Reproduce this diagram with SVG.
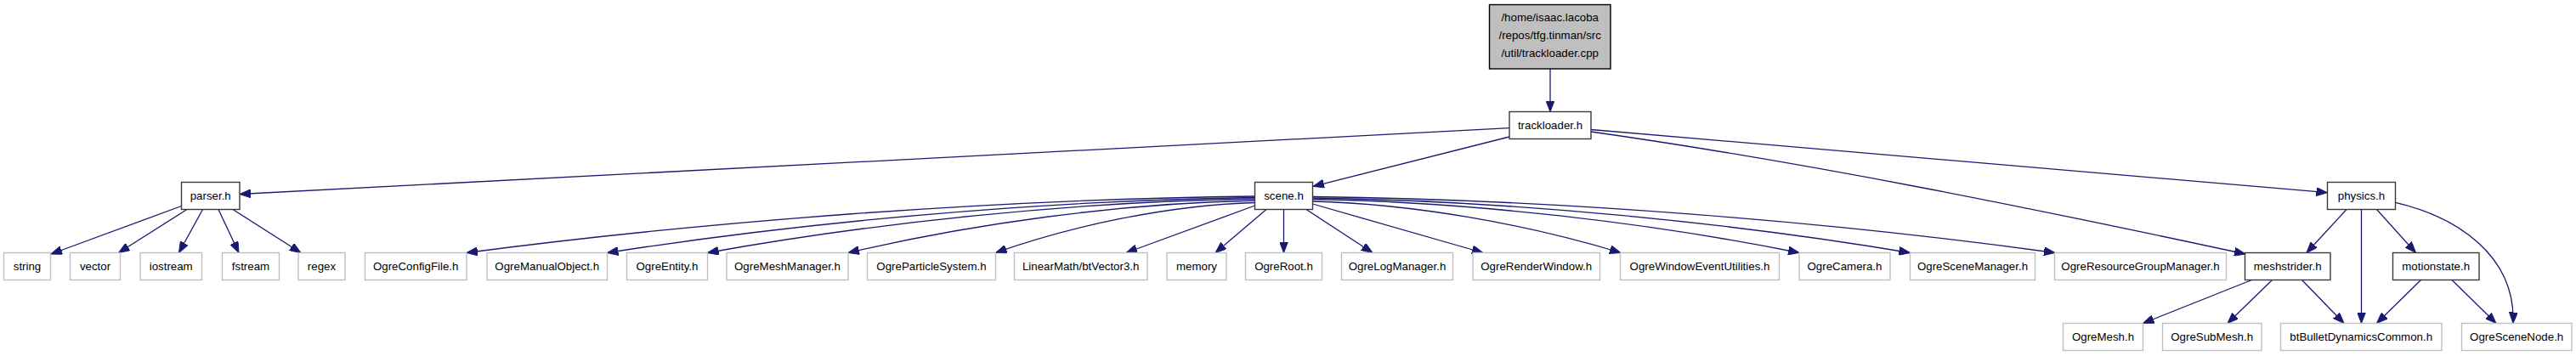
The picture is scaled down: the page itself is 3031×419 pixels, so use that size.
<svg xmlns="http://www.w3.org/2000/svg" width="3031" height="419" viewBox="0 0 3031 419">
<style>
.n rect{fill:#fff;stroke:#3a3a3a;stroke-width:1.4}
.l rect{fill:#fff;stroke:#bfbfbf;stroke-width:1.4}
.root rect{fill:#bfbfbf;stroke:#000;stroke-width:1.4}
text{font-family:"Liberation Sans",Arial,sans-serif;font-size:13.3px;fill:#000;text-anchor:middle}
#edges path{fill:none;stroke:#191970;stroke-width:1.3;marker-end:url(#ah)}
</style>
<defs>
<marker id="ah" viewBox="0 0 13 10" refX="13" refY="5" markerWidth="13" markerHeight="10" markerUnits="userSpaceOnUse" orient="auto">
<path d="M0,0 L13,5 L0,10 z" fill="#191970" stroke="#191970" stroke-width="1"/>
</marker>
</defs>
<rect width="3031" height="419" fill="#fff"/>
<g id="edges">
<path d="M1824,81 L1824,131.5"/>
<path d="M1776,150.7 L282,228.5"/>
<path d="M1776,161 L1545,219.3"/>
<path d="M1872,155 C2126,191 2388,244.3 2642,299"/>
<path d="M1872,152.5 L2738.5,226.7"/>
<path d="M1476.5,231 C1170.4,234.3 827.2,260.9 549,297.5"/>
<path d="M1476.5,232.5 C1225,235.8 943.1,261.8 714.5,297.5"/>
<path d="M1476.5,234 C1264,237.2 1025.7,262.6 832.5,297.5"/>
<path d="M1476.5,236 C1318.6,239.1 1141.5,263.7 998,297.5"/>
<path d="M1476.5,238.5 C1375.9,241.5 1263,265.1 1171.5,297.5"/>
<path d="M1476.5,242 L1325,297.5"/>
<path d="M1490,246.5 L1430,297.5"/>
<path d="M1510.5,246.5 L1510.5,297.5"/>
<path d="M1537,246.5 L1615,297.5"/>
<path d="M1544.5,240 L1745,297.5"/>
<path d="M1544.5,237 C1664.1,240 1798.3,264.2 1907,297.5"/>
<path d="M1544.5,234.5 C1733.4,237.7 1945.3,262.9 2117,297.5"/>
<path d="M1544.5,233 C1776.5,236.2 2036.6,262 2247.5,297.5"/>
<path d="M1544.5,231.5 C1832.8,234.8 2156,261.2 2418,297.5"/>
<path d="M213.5,242.5 L60,299"/>
<path d="M220,246.5 L139.5,297.5"/>
<path d="M238.5,246.5 L210.5,297.5"/>
<path d="M257,246.5 L281,297.5"/>
<path d="M274,246.5 L354,297.5"/>
<path d="M2761,246.5 L2714,297.5"/>
<path d="M2778.5,246.5 L2778.5,380.5"/>
<path d="M2796.5,246.5 L2842.5,297.5"/>
<path d="M2818.5,238.3 C2890,255 2960,300 2957,380.5"/>
<path d="M2649.5,329.5 L2521.5,380.5"/>
<path d="M2673.5,329.5 L2621,380.5"/>
<path d="M2708.5,329.5 L2758,380.5"/>
<path d="M2848.5,329.5 L2796.5,380.5"/>
<path d="M2885,329.5 L2937,380.5"/>
</g>
<g id="node-root" class="root"><rect x="1752.5" y="5.5" width="142.5" height="75.5"/><text x="1823.7" y="25">/home/isaac.lacoba</text><text x="1823.7" y="46">/repos/tfg.tinman/src</text><text x="1823.7" y="67">/util/trackloader.cpp</text></g>
<g id="node-trackloader" class="n"><rect x="1776" y="131.5" width="96" height="32"/><text x="1824" y="152.3">trackloader.h</text></g>
<g id="node-parser" class="n"><rect x="213.5" y="214.5" width="68.5" height="32"/><text x="247.7" y="235.3">parser.h</text></g>
<g id="node-scene" class="n"><rect x="1476.5" y="214.5" width="68" height="32"/><text x="1510.5" y="235.3">scene.h</text></g>
<g id="node-physics" class="n"><rect x="2738.5" y="214.5" width="80" height="32"/><text x="2778.5" y="235.3">physics.h</text></g>
<g id="node-string" class="l"><rect x="4.5" y="297.5" width="55" height="32"/><text x="32" y="318.3">string</text></g>
<g id="node-vector" class="l"><rect x="82.5" y="297.5" width="59" height="32"/><text x="112" y="318.3">vector</text></g>
<g id="node-iostream" class="l"><rect x="165" y="297.5" width="72.5" height="32"/><text x="201.2" y="318.3">iostream</text></g>
<g id="node-fstream" class="l"><rect x="261.5" y="297.5" width="67" height="32"/><text x="295" y="318.3">fstream</text></g>
<g id="node-regex" class="l"><rect x="351" y="297.5" width="55" height="32"/><text x="378.5" y="318.3">regex</text></g>
<g id="node-configfile" class="l"><rect x="429.5" y="297.5" width="119.5" height="32"/><text x="489.2" y="318.3">OgreConfigFile.h</text></g>
<g id="node-manualobject" class="l"><rect x="573" y="297.5" width="141.5" height="32"/><text x="643.7" y="318.3">OgreManualObject.h</text></g>
<g id="node-entity" class="l"><rect x="737.5" y="297.5" width="95" height="32"/><text x="785" y="318.3">OgreEntity.h</text></g>
<g id="node-meshmanager" class="l"><rect x="855" y="297.5" width="143" height="32"/><text x="926.5" y="318.3">OgreMeshManager.h</text></g>
<g id="node-particlesystem" class="l"><rect x="1020.5" y="297.5" width="151" height="32"/><text x="1096" y="318.3">OgreParticleSystem.h</text></g>
<g id="node-btvector3" class="l"><rect x="1193.5" y="297.5" width="156.5" height="32"/><text x="1271.7" y="318.3">LinearMath/btVector3.h</text></g>
<g id="node-memory" class="l"><rect x="1373" y="297.5" width="70" height="32"/><text x="1408" y="318.3">memory</text></g>
<g id="node-ogreroot" class="l"><rect x="1465.5" y="297.5" width="90" height="32"/><text x="1510.5" y="318.3">OgreRoot.h</text></g>
<g id="node-logmanager" class="l"><rect x="1578.5" y="297.5" width="131" height="32"/><text x="1644" y="318.3">OgreLogManager.h</text></g>
<g id="node-renderwindow" class="l"><rect x="1733" y="297.5" width="149.5" height="32"/><text x="1807.7" y="318.3">OgreRenderWindow.h</text></g>
<g id="node-windowevent" class="l"><rect x="1906.5" y="297.5" width="187" height="32"/><text x="2000" y="318.3">OgreWindowEventUtilities.h</text></g>
<g id="node-camera" class="l"><rect x="2117" y="297.5" width="107" height="32"/><text x="2170.5" y="318.3">OgreCamera.h</text></g>
<g id="node-scenemanager" class="l"><rect x="2247.5" y="297.5" width="147" height="32"/><text x="2321" y="318.3">OgreSceneManager.h</text></g>
<g id="node-resourcegroup" class="l"><rect x="2417.5" y="297.5" width="202" height="32"/><text x="2518.5" y="318.3">OgreResourceGroupManager.h</text></g>
<g id="node-meshstrider" class="n"><rect x="2641.5" y="297.5" width="100.5" height="32"/><text x="2691.7" y="318.3">meshstrider.h</text></g>
<g id="node-motionstate" class="n"><rect x="2815.5" y="297.5" width="101.5" height="32"/><text x="2866.2" y="318.3">motionstate.h</text></g>
<g id="node-ogremesh" class="l"><rect x="2427.5" y="380.5" width="94" height="32"/><text x="2474.5" y="401.3">OgreMesh.h</text></g>
<g id="node-submesh" class="l"><rect x="2544.5" y="380.5" width="116.5" height="32"/><text x="2602.7" y="401.3">OgreSubMesh.h</text></g>
<g id="node-btbullet" class="l"><rect x="2683.5" y="380.5" width="189.5" height="32"/><text x="2778.2" y="401.3">btBulletDynamicsCommon.h</text></g>
<g id="node-scenenode" class="l"><rect x="2896.5" y="380.5" width="129.5" height="32"/><text x="2961.2" y="401.3">OgreSceneNode.h</text></g>
</svg>
